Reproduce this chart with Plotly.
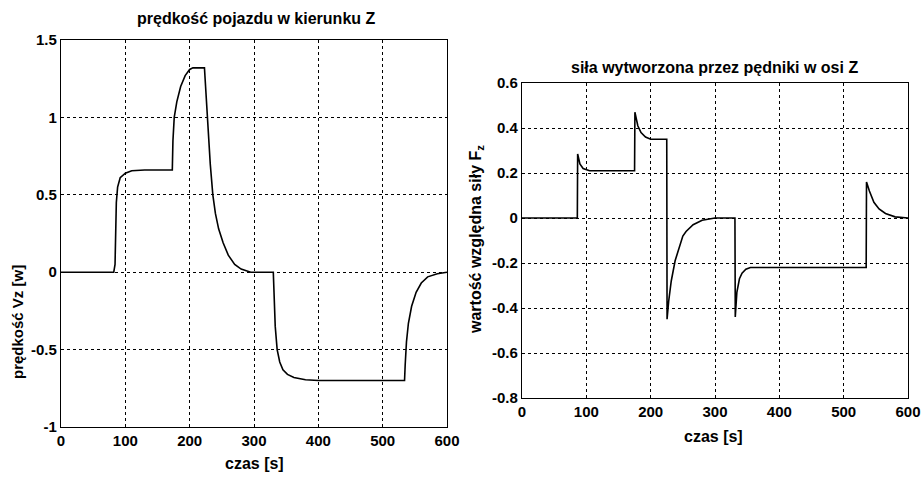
import plotly.graph_objects as go

# ---- data: velocity in Z (left) ----
t_vz = [0, 82, 84, 85, 86, 88, 92, 100, 110, 130, 173, 174, 176, 180, 186, 193, 200, 205,
        223, 224, 226, 229, 232, 236, 240, 245, 252, 260, 270, 280, 295, 330, 331, 333,
        336, 340, 345, 352, 362, 380, 400, 534, 535, 537, 540, 545, 552, 560, 570, 585, 600]
vz = [0, 0, 0.05, 0.3, 0.45, 0.55, 0.61, 0.64, 0.655, 0.66, 0.66, 0.85, 1.0, 1.1, 1.2, 1.27, 1.31, 1.32,
      1.32, 1.25, 1.1, 0.9, 0.7, 0.5, 0.38, 0.28, 0.19, 0.11, 0.05, 0.02, 0.0, 0.0, -0.15, -0.35,
      -0.5, -0.58, -0.63, -0.66, -0.68, -0.695, -0.70, -0.70, -0.6, -0.45, -0.33, -0.22, -0.13, -0.07, -0.03, -0.01, 0.0]

# ---- data: thruster force in Z (right) ----
t_fz = [0, 86, 86.5, 90, 95, 105, 175, 175.5, 180, 185, 192, 200, 225, 225.5, 228, 230, 232, 238,
        245, 250, 255, 266, 280, 300, 331, 331.5, 334, 338, 342, 348, 355, 535, 535.5, 540, 547,
        555, 565, 580, 600]
fz = [0, 0, 0.285, 0.24, 0.22, 0.21, 0.21, 0.47, 0.41, 0.38, 0.36, 0.35, 0.35, -0.45, -0.37, -0.33, -0.28, -0.19,
      -0.12, -0.08, -0.06, -0.03, -0.01, 0.0, 0.0, -0.44, -0.33, -0.27, -0.245, -0.228, -0.22, -0.22, 0.16, 0.12, 0.07,
      0.04, 0.02, 0.005, 0.0]

x_ticks = [0, 100, 200, 300, 400, 500, 600]
vz_ticks = [-1, -0.5, 0, 0.5, 1, 1.5]
vz_ticklabels = ["-1", "-0.5", "0", "0.5", "1", "1.5"]
fz_ticks = [-0.8, -0.6, -0.4, -0.2, 0, 0.2, 0.4, 0.6]
fz_ticklabels = ["-0.8", "-0.6", "-0.4", "-0.2", "0", "0.2", "0.4", "0.6"]

title_left = "prędkość pojazdu w kierunku Z"
title_right = "siła wytworzona przez pędniki w osi Z"
xlabel = "czas [s]"
ylabel_left = "prędkość Vz [w]"
ylabel_right = "wartość względna siły F<sub>z</sub>"

W, H = 922, 481
FONT = "Liberation Sans, Arial, sans-serif"

fig = go.Figure()
fig.add_trace(go.Scatter(x=t_vz, y=vz, mode="lines", line=dict(color="black", width=1.6),
                         xaxis="x", yaxis="y", showlegend=False))
fig.add_trace(go.Scatter(x=t_fz, y=fz, mode="lines", line=dict(color="black", width=1.6),
                         xaxis="x2", yaxis="y2", showlegend=False))

def px_x(p):
    return p / W

def px_y(p):
    return 1 - p / H

axis_common = dict(
    showgrid=True, gridcolor="black", gridwidth=1, griddash="3px,3px",
    showline=True, linecolor="black", linewidth=1.2, mirror=True,
    zeroline=False, ticks="", automargin=False,
    tickfont=dict(family=FONT, size=15, color="black", weight="bold"),
)

fig.update_layout(
    width=W, height=H,
    margin=dict(l=0, r=0, t=0, b=0),
    paper_bgcolor="white", plot_bgcolor="white",
    font=dict(family=FONT, color="black"),
    xaxis=dict(domain=[px_x(61), px_x(447)], range=[0, 600], tickvals=x_ticks,
               anchor="y", **axis_common),
    yaxis=dict(domain=[px_y(427), px_y(40)], range=[-1, 1.5], tickvals=vz_ticks,
               ticktext=vz_ticklabels, anchor="x", **axis_common),
    xaxis2=dict(domain=[px_x(522), px_x(908)], range=[0, 600], tickvals=x_ticks,
                anchor="y2", **axis_common),
    yaxis2=dict(domain=[px_y(398), px_y(83)], range=[-0.8, 0.6], tickvals=fz_ticks,
                ticktext=fz_ticklabels, anchor="x2", **axis_common),
)

title_font = dict(family=FONT, size=16, color="black", weight="bold")
xl_font = dict(family=FONT, size=16, color="black", weight="bold")
yl_font_left = dict(family=FONT, size=15, color="black", weight="bold")
yl_font_right = dict(family=FONT, size=16, color="black", weight="bold")
fig.add_annotation(text=title_left, x=px_x(256), y=px_y(18), xref="paper", yref="paper",
                   showarrow=False, font=title_font, xanchor="center", yanchor="middle")
fig.add_annotation(text=title_right, x=px_x(714), y=px_y(67), xref="paper", yref="paper",
                   showarrow=False, font=title_font, xanchor="center", yanchor="middle")
fig.add_annotation(text=xlabel, x=px_x(254), y=px_y(463), xref="paper", yref="paper",
                   showarrow=False, font=xl_font, xanchor="center", yanchor="middle")
fig.add_annotation(text=xlabel, x=px_x(713), y=px_y(436), xref="paper", yref="paper",
                   showarrow=False, font=xl_font, xanchor="center", yanchor="middle")
fig.add_annotation(text=ylabel_left, x=px_x(17), y=px_y(322), xref="paper", yref="paper",
                   showarrow=False, font=yl_font_left, textangle=-90, xanchor="center", yanchor="middle")
fig.add_annotation(text=ylabel_right, x=px_x(476), y=px_y(240), xref="paper", yref="paper",
                   showarrow=False, font=yl_font_right, textangle=-90, xanchor="center", yanchor="middle")

fig.write_html("out.html", config={"displayModeBar": False},
               post_script="document.body.style.margin='0';document.body.style.overflow='hidden';")
